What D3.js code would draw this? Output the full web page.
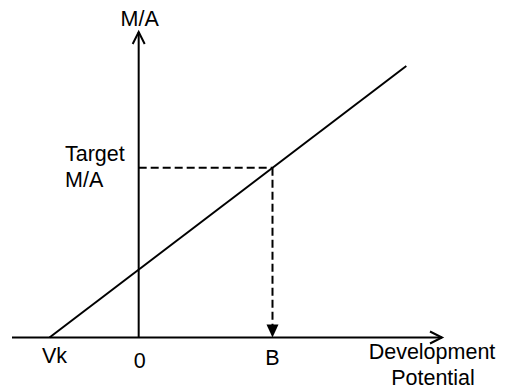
<!DOCTYPE html>
<html>
<head>
<meta charset="utf-8">
<script src="https://cdn.jsdelivr.net/npm/d3@7"></script>
<style>
  body { margin: 0; background: #fff; }
  text { font-family: "Liberation Sans", Arial, sans-serif; font-size: 21.5px; fill: #000; }
</style>
</head>
<body>
<svg id="chart" width="505" height="390"></svg>
<script>
// conceptual units: x = development potential, y = M/A
var xDomain = [-1.42, 3.4];
var yDomain = [0, 4.5];

var lineX = [-1, 3];   // Vk to the end of the line
var lineY = [0, 4];

var vk = -1;
var bValue = 1.5;
var targetMA = 2.5;

var tickValues = [-1, 0, 1.5];
var tickLabels = ["Vk", "0", "B"];
var tickDy = [25.5, 30.5, 27.5];
var tickDx = [5, 1, 0];

var svg = d3.select("#chart");

var x = d3.scaleLinear().domain(xDomain).range([12, 442]);
var y = d3.scaleLinear().domain(yDomain).range([337.5, 32]);

// x axis with open arrow
svg.append("line")
  .attr("x1", x(xDomain[0])).attr("y1", y(0))
  .attr("x2", x(xDomain[1])).attr("y2", y(0))
  .attr("stroke", "#000").attr("stroke-width", 2);
svg.append("path")
  .attr("d", "M" + (x(xDomain[1]) - 12) + "," + (y(0) - 6) +
             "L" + x(xDomain[1]) + "," + y(0) +
             "L" + (x(xDomain[1]) - 12) + "," + (y(0) + 6))
  .attr("fill", "none").attr("stroke", "#000").attr("stroke-width", 2);

// y axis with open arrow
svg.append("line")
  .attr("x1", x(0)).attr("y1", y(0))
  .attr("x2", x(0)).attr("y2", y(yDomain[1]))
  .attr("stroke", "#000").attr("stroke-width", 2);
svg.append("path")
  .attr("d", "M" + (x(0) - 6) + "," + (y(yDomain[1]) + 12) +
             "L" + x(0) + "," + y(yDomain[1]) +
             "L" + (x(0) + 6) + "," + (y(yDomain[1]) + 12))
  .attr("fill", "none").attr("stroke", "#000").attr("stroke-width", 2);

// the main line
var line = d3.line()
  .x(function(d) { return x(d[0]); })
  .y(function(d) { return y(d[1]); });

svg.append("path")
  .datum(d3.zip(lineX, lineY))
  .attr("d", line)
  .attr("fill", "none").attr("stroke", "#000").attr("stroke-width", 2);

// dashed target lines
svg.append("line")
  .attr("x1", x(0)).attr("y1", y(targetMA))
  .attr("x2", x(bValue)).attr("y2", y(targetMA))
  .attr("stroke", "#000").attr("stroke-width", 2)
  .attr("stroke-dasharray", "8,4");
svg.append("line")
  .attr("x1", x(bValue)).attr("y1", y(targetMA))
  .attr("x2", x(bValue)).attr("y2", y(0) - 12)
  .attr("stroke", "#000").attr("stroke-width", 2)
  .attr("stroke-dasharray", "8,4");
svg.append("path")
  .attr("d", "M" + (x(bValue) - 6) + "," + (y(0) - 13) +
             "L" + (x(bValue) + 6) + "," + (y(0) - 13) +
             "L" + x(bValue) + "," + y(0) + "Z")
  .attr("fill", "#000");

// tick labels under the x axis
svg.selectAll(".tick-label")
  .data(tickValues)
  .enter()
  .append("text")
  .attr("class", "tick-label")
  .attr("x", function(d, i) { return x(d) + tickDx[i]; })
  .attr("y", function(d, i) { return y(0) + tickDy[i]; })
  .attr("text-anchor", "middle")
  .text(function(d, i) { return tickLabels[i]; });

// axis titles
svg.append("text")
  .attr("x", x(0) + 1).attr("y", 26)
  .attr("text-anchor", "middle")
  .text("M/A");

var xTitle = svg.append("text")
  .attr("x", 432).attr("y", 359)
  .attr("text-anchor", "middle");
xTitle.append("tspan").attr("x", 432).text("Development");
xTitle.append("tspan").attr("x", 433).attr("dy", 26).text("Potential");

var target = svg.append("text")
  .attr("x", 65).attr("y", y(targetMA) - 7);
target.append("tspan").attr("x", 65).text("Target");
target.append("tspan").attr("x", 65).attr("dy", 26).text("M/A");
</script>
</body>
</html>
